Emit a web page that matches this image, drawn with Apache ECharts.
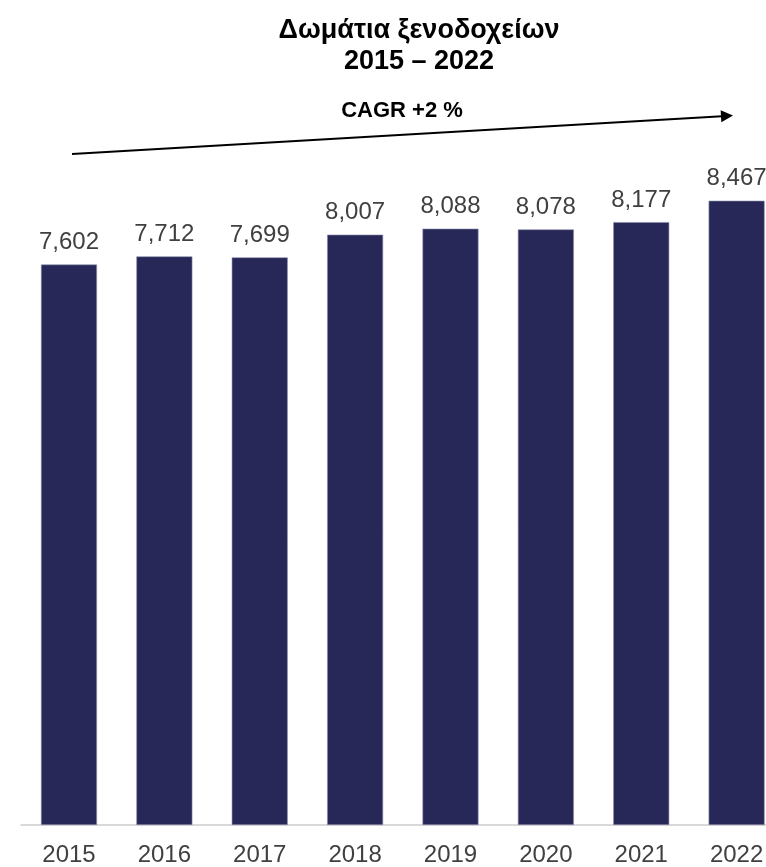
<!DOCTYPE html>
<html>
<head>
<meta charset="utf-8">
<script src="https://cdn.jsdelivr.net/npm/echarts@6/dist/echarts.min.js"></script>
<style>
  html, body { margin: 0; padding: 0; background: #ffffff; }
  #chart { width: 766px; height: 867px; }
</style>
</head>
<body>
<div id="chart"></div>
<script>
var years = ['2015', '2016', '2017', '2018', '2019', '2020', '2021', '2022']
var rooms = [7602, 7712, 7699, 8007, 8088, 8078, 8177, 8467]
var titleText = 'Δωμάτια ξενοδοχείων\n2015 – 2022'
var cagrText = 'CAGR +2 %'

var font = 'Liberation Sans, Arial, sans-serif'

var option = {
    backgroundColor: '#ffffff',
    animation: false,
    title: {
        text: titleText,
        left: 414,
        top: 10,
        textAlign: 'center',
        textStyle: {
            fontFamily: font,
            fontSize: 27,
            fontWeight: 'bold',
            color: '#000000',
            lineHeight: 31
        }
    },
    grid: {
        left: 21.3,
        width: 763,
        top: 87.7,
        bottom: 42,
        outerBoundsMode: 'none'
    },
    xAxis: {
        type: 'category',
        data: years,
        axisLine: { lineStyle: { color: '#d9d9d9', width: 2 } },
        axisTick: { show: false },
        axisLabel: {
            margin: 18,
            fontFamily: font,
            fontSize: 24,
            color: '#404040'
        }
    },
    yAxis: {
        type: 'value',
        min: 0,
        max: 10000,
        show: false,
        splitLine: { show: false }
    },
    graphic: [
        {
            type: 'text',
            x: 402,
            y: 110.5,
            style: {
                text: cagrText,
                font: 'bold 22px ' + font,
                fill: '#000000',
                align: 'center',
                verticalAlign: 'middle'
            }
        },
        {
            type: 'line',
            shape: { x1: 72, y1: 154, x2: 722, y2: 116.3 },
            style: { stroke: '#000000', lineWidth: 2 }
        },
        {
            type: 'polygon',
            shape: { points: [[733, 115.6], [721.35, 122.3], [720.65, 110.3]] },
            style: { fill: '#000000' }
        }
    ],
    series: [{
        type: 'bar',
        data: rooms,
        barWidth: 56,
        itemStyle: {
            color: '#272858',
            borderColor: '#8e8fae',
            borderWidth: 0.6
        },
        label: {
            show: true,
            position: 'top',
            distance: 10,
            fontFamily: font,
            fontSize: 24,
            color: '#404040',
            formatter: function (p) {
                return p.value.toLocaleString('en-US')
            }
        }
    }]
}

var myChart = echarts.init(document.getElementById('chart'))
myChart.setOption(option)
</script>
</body>
</html>
